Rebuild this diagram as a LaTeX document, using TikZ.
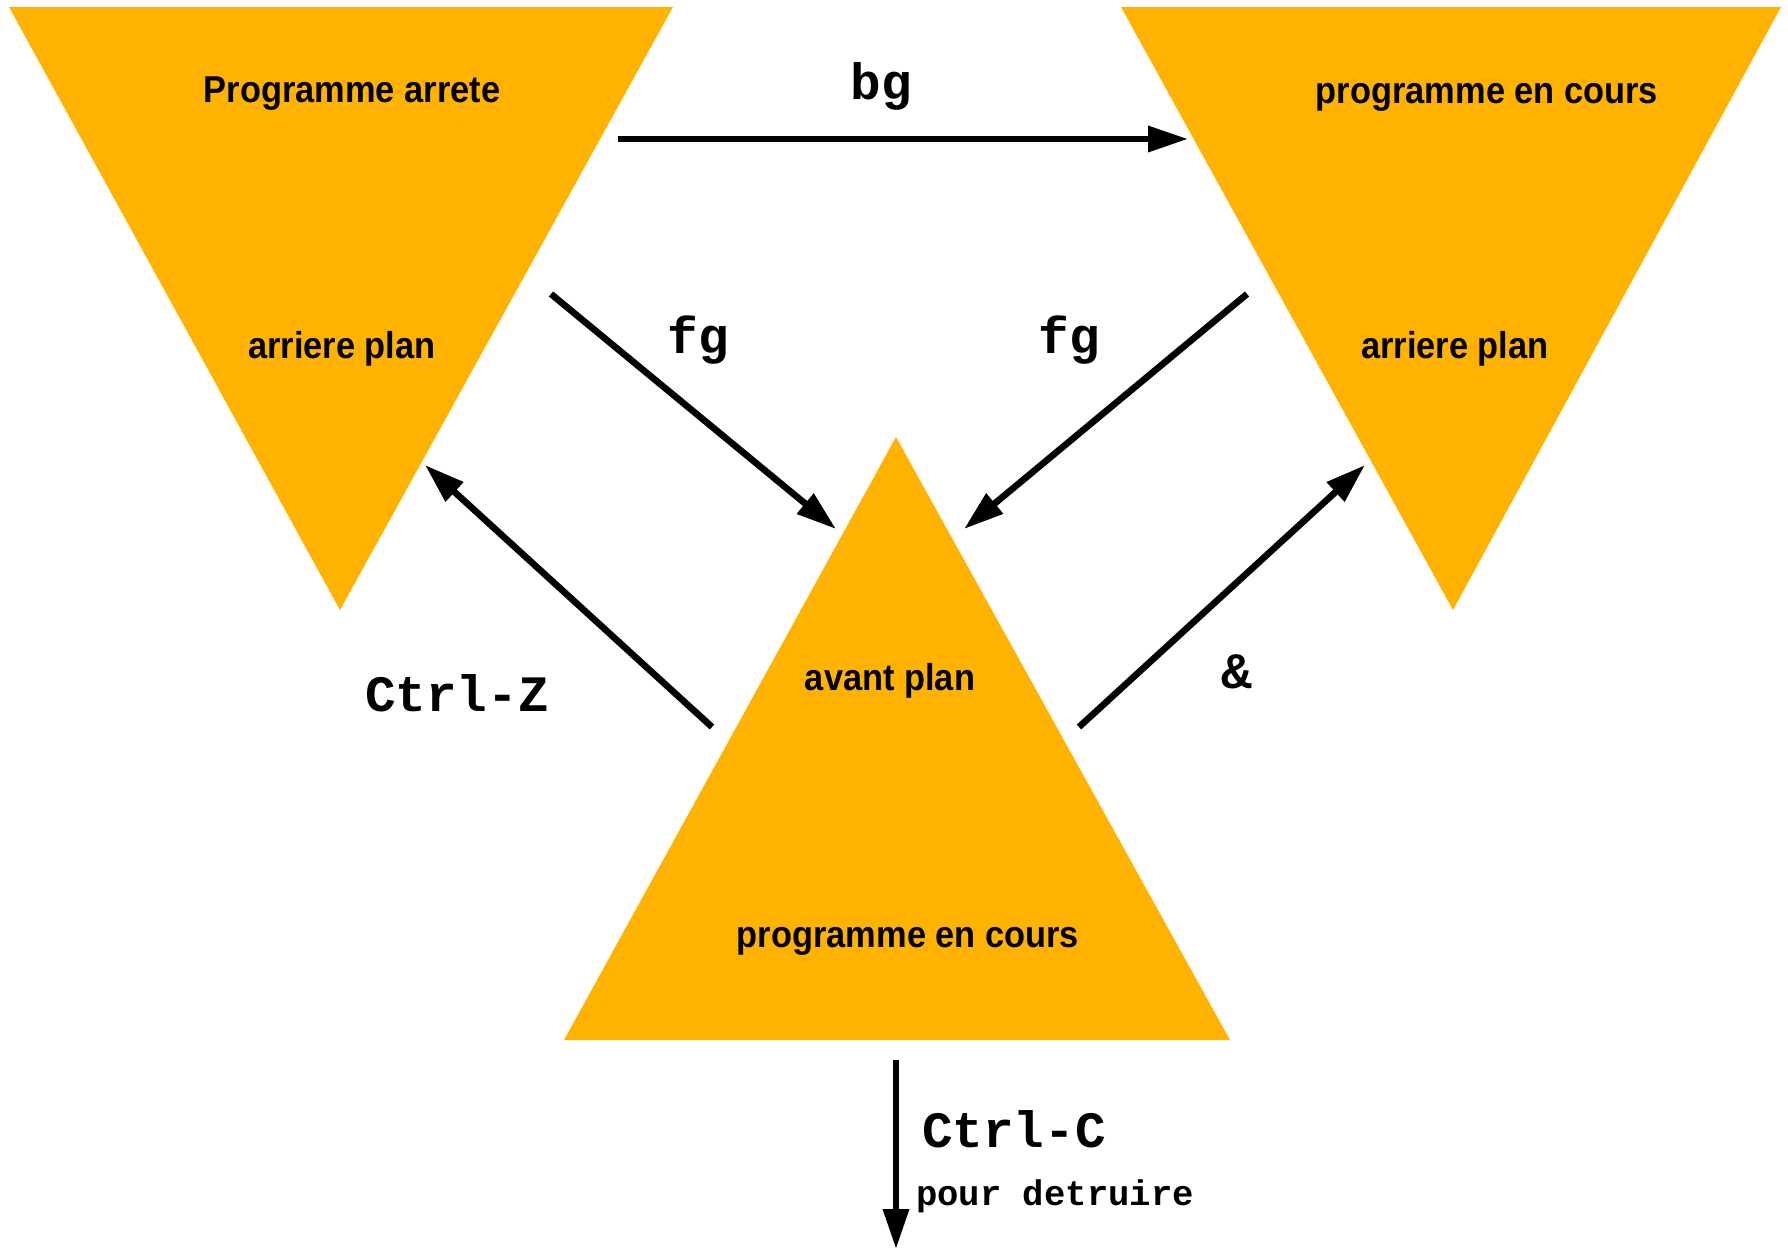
\documentclass[tikz,border=0pt]{standalone}
\usepackage{fontspec}
\setmainfont{Liberation Sans}
\newfontfamily\monof{Liberation Mono}
\usetikzlibrary{arrows.meta}
\definecolor{tri}{RGB}{255,178,0}
\newcommand{\narrowtxt}[1]{\scalebox{0.92}[1]{#1}}
\begin{document}
\begin{tikzpicture}[x=0.5pt,y=-0.5pt,
  lbl/.style={font=\fontsize{18.7}{21}\selectfont\bfseries, inner sep=0, anchor=base},
  key/.style={font=\fontsize{25.5}{28}\selectfont\monof\bfseries, inner sep=0, anchor=base},
  small/.style={font=\fontsize{17.8}{20}\selectfont\monof\bfseries, inner sep=0, anchor=base},
  conn/.style={line width=3.3pt, -{Triangle[length=20pt,width=12.5pt]}}]
\useasboundingbox (0,0) rectangle (1788,1250);
% triangles
\fill[tri] (9,7) -- (673,7) -- (340,610) -- cycle;
\fill[tri] (1121,7) -- (1781,7) -- (1453,610) -- cycle;
\fill[tri] (896,437) -- (1230,1040) -- (564,1040) -- cycle;
% labels in triangles
\node[lbl] (t1a) at (352,102) {\narrowtxt{Programme arrete}};
\node[lbl] (t1b) at (342,358) {\narrowtxt{arriere plan}};
\node[lbl] (t2a) at (1487,103) {\narrowtxt{programme en cours}};
\node[lbl] (t2b) at (1455,358) {\narrowtxt{arriere plan}};
\node[lbl] (t3a) at (890,690) {\narrowtxt{avant plan}};
\node[lbl] (t3b) at (908,947) {\narrowtxt{programme en cours}};
% connector endpoints
\coordinate (bgS) at (618,139);
\coordinate (bgE) at (1188,139);
\coordinate (fg1S) at (551,294);
\coordinate (fg1E) at (836,529);
\coordinate (fg2S) at (1247,294);
\coordinate (fg2E) at (964,529);
\coordinate (czS) at (712,727);
\coordinate (czE) at (425,465);
\coordinate (amS) at (1079,727);
\coordinate (amE) at (1365,465);
\coordinate (ccS) at (896,1060);
\coordinate (ccE) at (896,1249);
% connectors
\draw[conn] (bgS) -- (bgE);
\draw[conn] (fg1S) -- (fg1E);
\draw[conn] (fg2S) -- (fg2E);
\draw[conn] (czS) -- (czE);
\draw[conn] (amS) -- (amE);
\draw[conn] (ccS) -- (ccE);
% connector labels
\node[key] (kbg) at (881,99) {bg};
\node[key] (kfg1) at (698,353) {fg};
\node[key] (kfg2) at (1069,353) {fg};
\node[key] (kcz) at (457,711) {Ctrl-Z};
\node[key] (kam) at (1237,688) {\&};
\node[key] (kcc) at (1014,1147) {Ctrl-C};
\node[small] (kpd) at (1055,1205) {pour detruire};
\end{tikzpicture}
\end{document}
